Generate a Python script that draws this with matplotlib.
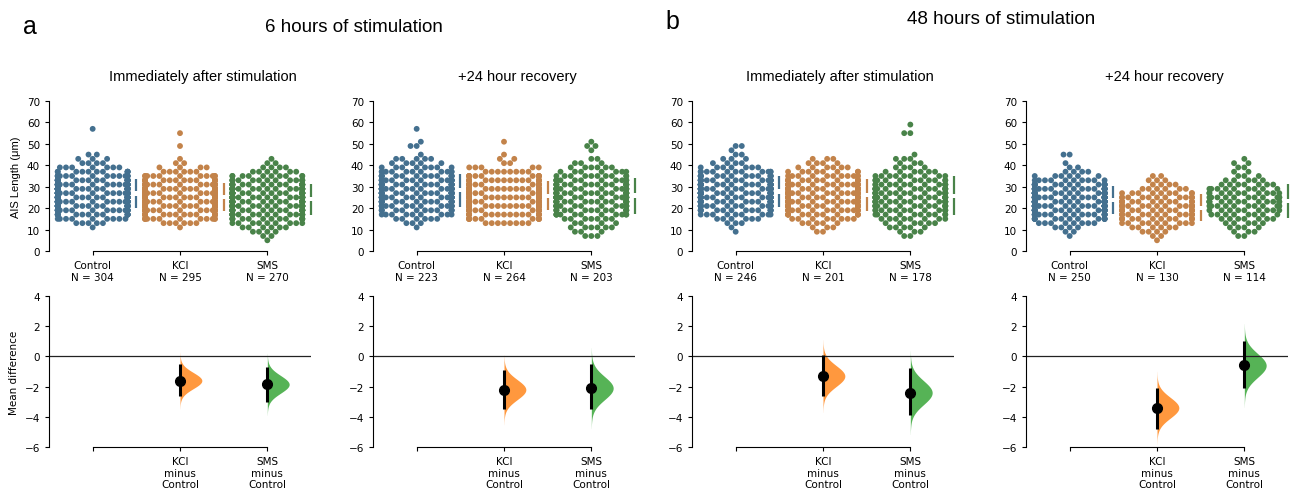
import numpy as np
import pandas as pd
import matplotlib
matplotlib.use('Agg')
import matplotlib.pyplot as plt
import seaborn as sns

bins_um = [5, 7, 9, 11, 13, 15, 17, 19, 21, 23, 25, 27, 29, 31,
           33, 35, 37, 39, 41, 43, 45, 47, 49, 51, 53, 55, 57, 59]
groups = ['Control', 'KCl', 'SMS']

# 6 h, immediately after
a_now_control = [0, 0, 0, 1, 5, 9, 15, 21, 27, 31, 34, 35, 33, 27,
                 22, 16, 11, 7, 4, 3, 2, 0, 0, 0, 0, 0, 1, 0]
a_now_kcl = [0, 0, 0, 1, 6, 12, 21, 27, 31, 34, 35, 33, 29, 23,
             17, 11, 6, 4, 2, 1, 0, 0, 1, 0, 0, 1, 0, 0]
a_now_sms = [1, 2, 4, 6, 9, 13, 18, 23, 27, 29, 30, 28, 24, 20,
             13, 10, 6, 4, 2, 1, 0, 0, 0, 0, 0, 0, 0, 0]
# 6 h, +24 h recovery
a_rec_control = [0, 0, 0, 1, 3, 6, 9, 12, 16, 19, 22, 24, 23, 21,
                 18, 15, 11, 8, 5, 5, 1, 0, 2, 1, 0, 0, 1, 0]
a_rec_kcl = [0, 0, 0, 0, 8, 11, 16, 21, 25, 29, 31, 29, 26, 22,
             16, 11, 8, 5, 2, 2, 1, 0, 0, 1, 0, 0, 0, 0]
a_rec_sms = [0, 3, 3, 6, 4, 7, 11, 14, 17, 19, 21, 19, 18, 16,
             13, 10, 7, 6, 3, 2, 0, 1, 2, 1, 0, 0, 0, 0]
# 48 h, immediately after
b_now_control = [0, 0, 1, 1, 3, 6, 9, 14, 19, 23, 26, 28, 27, 24,
                 20, 15, 11, 7, 4, 3, 2, 1, 2, 0, 0, 0, 0, 0]
b_now_kcl = [0, 0, 2, 3, 5, 8, 12, 14, 17, 19, 20, 20, 19, 16,
             14, 11, 8, 6, 4, 3, 0, 0, 0, 0, 0, 0, 0, 0]
b_now_sms = [0, 2, 3, 5, 6, 8, 10, 12, 15, 16, 17, 16, 15, 13,
             11, 9, 6, 4, 3, 3, 1, 0, 0, 0, 0, 2, 0, 1]
# 48 h, +24 h recovery
b_rec_control = [0, 1, 2, 4, 8, 13, 18, 24, 28, 32, 30, 27, 22, 16,
                 10, 6, 4, 2, 1, 0, 2, 0, 0, 0, 0, 0, 0, 0]
b_rec_kcl = [1, 2, 4, 6, 9, 12, 14, 16, 16, 14, 12, 9, 6, 4,
             3, 2, 0, 0, 0, 0, 0, 0, 0, 0, 0, 0, 0, 0]
b_rec_sms = [0, 2, 3, 4, 5, 7, 8, 9, 11, 12, 12, 10, 9, 7,
             5, 3, 2, 2, 2, 1, 0, 0, 0, 0, 0, 0, 0, 0]

# mean differences vs Control (KCl, SMS) with 95% CI
a_now_diff = [-1.6, -1.85]
a_now_ci_low = [-2.6, -3.0]
a_now_ci_high = [-0.5, -0.7]
a_rec_diff = [-2.2, -2.1]
a_rec_ci_low = [-3.5, -3.5]
a_rec_ci_high = [-0.9, -0.5]
b_now_diff = [-1.3, -2.4]
b_now_ci_low = [-2.6, -3.9]
b_now_ci_high = [0.1, -0.8]
b_rec_diff = [-3.4, -0.6]
b_rec_ci_low = [-4.8, -2.1]
b_rec_ci_high = [-2.1, 1.0]

panels = [
    ('Immediately after stimulation', [a_now_control, a_now_kcl, a_now_sms],
     a_now_diff, a_now_ci_low, a_now_ci_high),
    ('+24 hour recovery', [a_rec_control, a_rec_kcl, a_rec_sms],
     a_rec_diff, a_rec_ci_low, a_rec_ci_high),
    ('Immediately after stimulation', [b_now_control, b_now_kcl, b_now_sms],
     b_now_diff, b_now_ci_low, b_now_ci_high),
    ('+24 hour recovery', [b_rec_control, b_rec_kcl, b_rec_sms],
     b_rec_diff, b_rec_ci_low, b_rec_ci_high),
]

W, H = 1295, 489
base = ['#1f77b4', '#ff7f0e', '#2ca02c']
swarm_cols = [sns.desaturate(c, 0.5) for c in base]

fig = plt.figure(figsize=(W / 100, H / 100), dpi=100, facecolor='w')
plt.rcParams['font.size'] = 7.5


def px(x, y):
    return x / W, 1 - y / H


def trim(ax, ylo, yhi):
    for s in ['top', 'right']:
        ax.spines[s].set_visible(False)
    ax.spines['left'].set_bounds(ylo, yhi)
    ax.spines['bottom'].set_bounds(0, 2)
    ax.tick_params(labelsize=7.5, length=3)


lefts = [49, 373, 692, 1026]
title_x = [203, 517, 840, 1164]

for k, (title, counts, diff, lo, hi) in enumerate(panels):
    vals = [np.repeat(bins_um, c) for c in counts]
    df = pd.DataFrame({
        'group': np.concatenate([[g] * len(v) for g, v in zip(groups, vals)]),
        'ais': np.concatenate(vals),
    })

    l, b = px(lefts[k], 252)
    ax = fig.add_axes([l, b, 262 / W, 150 / H])
    sns.swarmplot(data=df, x='group', y='ais', hue='group', order=groups,
                  palette=swarm_cols, size=4.2, ax=ax, legend=False)
    for i, v in enumerate(vals):
        m, sd = v.mean(), v.std()
        xg = i + 0.5
        ax.plot([xg, xg], [m - sd, m - 1], c=swarm_cols[i], lw=1.6,
                clip_on=False, solid_capstyle='butt')
        ax.plot([xg, xg], [m + 1, m + sd], c=swarm_cols[i], lw=1.6,
                clip_on=False, solid_capstyle='butt')
    ax.set_xlim(-0.5, 2.5)
    ax.set_ylim(0, 70)
    ax.set_yticks(range(0, 71, 10))
    ax.set_xticks([0, 1, 2])
    ax.set_xticklabels(['%s\nN = %d' % (g, len(v)) for g, v in zip(groups, vals)])
    ax.set_xlabel('')
    if k == 0:
        ax.set_ylabel('AIS Length (μm)', family='Liberation Sans', fontsize=8,
                      labelpad=4)
    else:
        ax.set_ylabel('')
    trim(ax, 0, 70)
    fig.text(*px(title_x[k], 77), title, ha='center', va='center',
             family='Liberation Sans', fontsize=10.5)

    l, b = px(lefts[k], 448)
    ax2 = fig.add_axes([l, b, 262 / W, 151 / H])
    ax2.axhline(0, color='#222222', lw=0.9)
    for j in range(2):
        xg = j + 1
        mu = diff[j]
        sd = (hi[j] - lo[j]) / 3.92
        yy = np.linspace(mu - 3.5 * sd, mu + 3.5 * sd, 200)
        dens = np.exp(-0.5 * ((yy - mu) / sd) ** 2)
        ax2.fill_betweenx(yy, xg, xg + 0.25 * dens, color=base[j + 1],
                          alpha=0.8, lw=0)
        ax2.plot([xg, xg], [lo[j], hi[j]], c='black', lw=2.2,
                 solid_capstyle='butt')
        ax2.plot(xg, mu, 'o', c='black', ms=7)
    ax2.set_xlim(-0.5, 2.5)
    ax2.set_ylim(-6, 4)
    ax2.set_yticks(range(-6, 5, 2))
    ax2.set_xticks([0, 1, 2])
    ax2.set_xticklabels(['', 'KCl\nminus\nControl', 'SMS\nminus\nControl'])
    if k == 0:
        ax2.set_ylabel('Mean difference', fontsize=7.5, labelpad=4)
    trim(ax2, -6, 4)

fig.text(*px(30, 27), 'a', ha='center', va='center',
         family='Liberation Sans', fontsize=18)
fig.text(*px(672, 22), 'b', ha='center', va='center',
         family='Liberation Sans', fontsize=18)
fig.text(*px(354, 27), '6 hours of stimulation', ha='center', va='center',
         family='Liberation Sans', fontsize=13.5)
fig.text(*px(1001, 20), '48 hours of stimulation', ha='center', va='center',
         family='Liberation Sans', fontsize=13.5)

fig.savefig('out.png', dpi=100, facecolor='w')
